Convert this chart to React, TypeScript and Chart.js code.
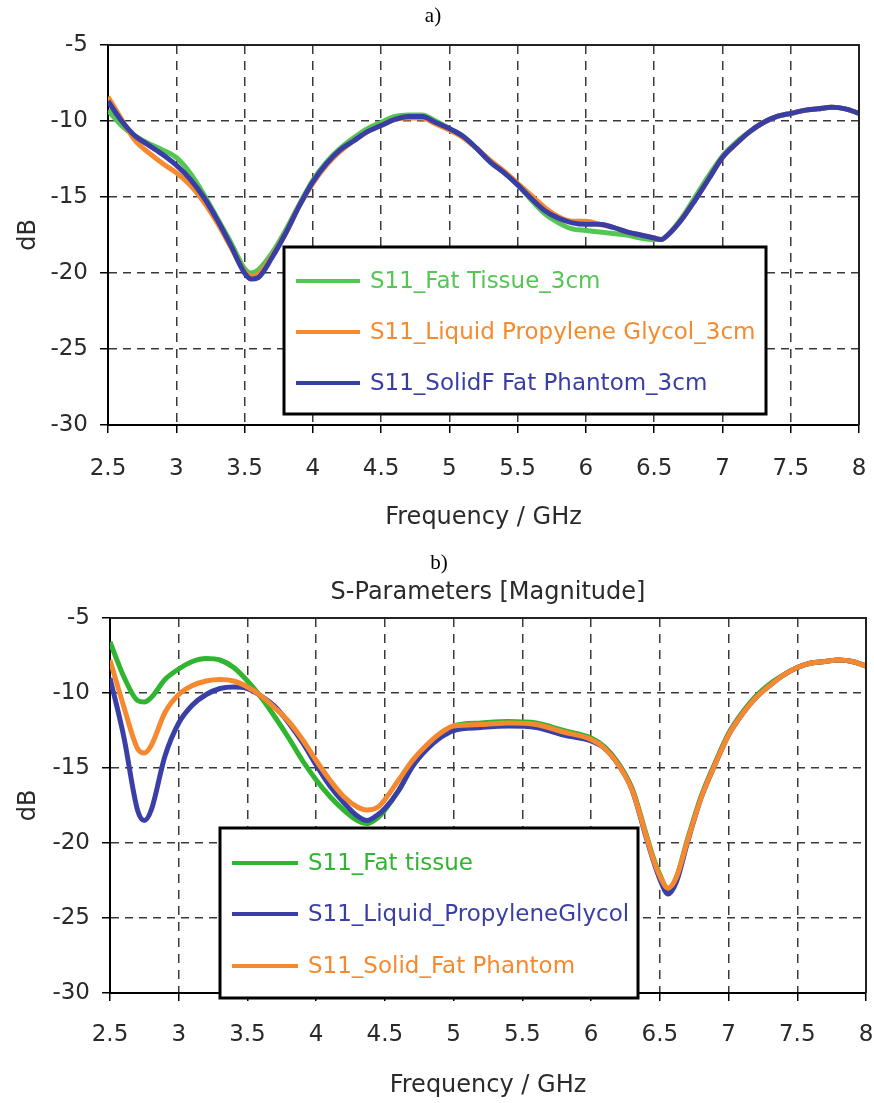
import React, { useEffect, useRef } from "react";
import { Chart, registerables } from "chart.js";

Chart.register(...registerables);

const FONT = "'DejaVu Sans', Verdana, sans-serif";

// ---------- Tick labels ----------
const xTickValues = [2.5, 3, 3.5, 4, 4.5, 5, 5.5, 6, 6.5, 7, 7.5, 8];
const yTickValues = [-30, -25, -20, -15, -10, -5];

// ---------- Chart a) ----------
const freqA = [2.5, 2.6, 2.7, 2.8, 2.9, 3.0, 3.1, 3.2, 3.3, 3.4, 3.5, 3.55, 3.6, 3.7, 3.8, 3.9, 4.0, 4.1, 4.2, 4.3, 4.4, 4.5, 4.6, 4.7, 4.8, 4.9, 5.0, 5.1, 5.2, 5.3, 5.4, 5.5, 5.6, 5.7, 5.8, 5.9, 6.0, 6.1, 6.2, 6.3, 6.4, 6.5, 6.55, 6.6, 6.7, 6.8, 6.9, 7.0, 7.1, 7.2, 7.3, 7.4, 7.5, 7.6, 7.7, 7.8, 7.9, 8.0];
const fatTissueA = [-9.3, -10.3, -11.0, -11.5, -11.9, -12.4, -13.4, -14.8, -16.4, -18.0, -19.7, -20.0, -19.8, -18.7, -17.2, -15.5, -13.9, -12.7, -11.8, -11.1, -10.5, -10.1, -9.7, -9.6, -9.6, -10.0, -10.5, -11.0, -11.8, -12.7, -13.4, -14.2, -15.2, -16.1, -16.7, -17.1, -17.2, -17.3, -17.4, -17.5, -17.7, -17.8, -17.8, -17.5, -16.4, -15.0, -13.6, -12.3, -11.4, -10.7, -10.1, -9.7, -9.5, -9.3, -9.2, -9.1, -9.2, -9.5];
const liquidPGA = [-8.4, -9.9, -11.3, -12.1, -12.8, -13.4, -14.2, -15.3, -16.7, -18.3, -19.9, -20.2, -20.1, -18.9, -17.4, -15.6, -14.1, -12.9, -12.0, -11.3, -10.7, -10.3, -9.9, -9.8, -9.8, -10.2, -10.6, -11.1, -11.8, -12.6, -13.3, -14.1, -14.9, -15.7, -16.3, -16.6, -16.6, -16.8, -17.0, -17.3, -17.5, -17.7, -17.8, -17.5, -16.5, -15.2, -13.8, -12.4, -11.5, -10.7, -10.1, -9.7, -9.5, -9.3, -9.2, -9.1, -9.2, -9.5];
const solidFatA = [-8.7, -10.0, -11.0, -11.6, -12.2, -12.9, -13.8, -15.0, -16.5, -18.2, -20.0, -20.4, -20.3, -19.0, -17.4, -15.6, -14.0, -12.8, -11.9, -11.3, -10.7, -10.3, -9.9, -9.7, -9.7, -10.1, -10.5, -11.0, -11.8, -12.7, -13.4, -14.2, -15.1, -15.9, -16.4, -16.7, -16.8, -16.8, -17.0, -17.3, -17.5, -17.7, -17.8, -17.5, -16.5, -15.2, -13.8, -12.4, -11.5, -10.7, -10.1, -9.7, -9.5, -9.3, -9.2, -9.1, -9.2, -9.5];
const labelsA = ["S11_Fat Tissue_3cm", "S11_Liquid Propylene Glycol_3cm", "S11_SolidF Fat Phantom_3cm"];

// ---------- Chart b) ----------
const freqB = [2.5, 2.6, 2.7, 2.75, 2.8, 2.9, 3.0, 3.1, 3.2, 3.3, 3.4, 3.5, 3.6, 3.7, 3.8, 3.9, 4.0, 4.1, 4.2, 4.3, 4.37, 4.45, 4.5, 4.6, 4.7, 4.8, 4.9, 5.0, 5.2, 5.4, 5.6, 5.8, 6.0, 6.1, 6.2, 6.3, 6.4, 6.45, 6.5, 6.56, 6.62, 6.7, 6.8, 6.9, 7.0, 7.1, 7.2, 7.3, 7.4, 7.5, 7.6, 7.7, 7.8, 7.9, 8.0];
const fatTissueB = [-6.6, -8.9, -10.5, -10.6, -10.3, -9.1, -8.4, -7.9, -7.7, -7.8, -8.3, -9.2, -10.3, -11.6, -13.0, -14.5, -15.8, -16.9, -17.8, -18.5, -18.7, -18.3, -17.8, -16.5, -14.9, -13.7, -12.8, -12.2, -12.0, -11.9, -12.0, -12.5, -13.0, -13.6, -14.7, -16.4, -19.4, -20.9, -22.1, -23.1, -22.3, -19.8, -16.9, -14.7, -12.7, -11.3, -10.2, -9.4, -8.8, -8.3, -8.0, -7.9, -7.8, -7.9, -8.2];
const liquidPGB = [-9.0, -12.9, -17.8, -18.5, -17.8, -14.2, -12.0, -10.8, -10.1, -9.7, -9.6, -9.7, -10.2, -10.9, -12.0, -13.3, -14.8, -16.2, -17.3, -18.2, -18.5, -18.1, -17.7, -16.5, -14.9, -13.8, -13.0, -12.5, -12.3, -12.2, -12.3, -12.8, -13.2, -13.7, -14.8, -16.5, -19.6, -21.1, -22.4, -23.4, -22.6, -20.0, -17.0, -14.8, -12.8, -11.4, -10.3, -9.5, -8.8, -8.3, -8.0, -7.9, -7.8, -7.9, -8.2];
const solidFatB = [-7.8, -10.9, -13.7, -14.0, -13.5, -11.3, -10.1, -9.5, -9.2, -9.1, -9.2, -9.6, -10.2, -11.0, -11.9, -13.1, -14.5, -15.8, -16.9, -17.6, -17.8, -17.6, -17.1, -15.8, -14.5, -13.5, -12.7, -12.2, -12.1, -12.0, -12.1, -12.6, -13.1, -13.7, -14.8, -16.5, -19.5, -21.0, -22.2, -23.0, -22.3, -19.9, -17.0, -14.8, -12.8, -11.4, -10.3, -9.5, -8.8, -8.3, -8.0, -7.9, -7.8, -7.9, -8.2];
const labelsB = ["S11_Fat tissue", "S11_Liquid_PropyleneGlycol", "S11_Solid_Fat Phantom"];

const toPts = (xs: number[], ys: number[]) => xs.map((x, i) => ({ x, y: ys[i] }));

const boxLegendPlugin = {
  id: "boxLegend",
  afterDraw(chart: any, _args: any, opts: any) {
    const ctx = chart.ctx;
    const { left, top, right, bottom } = chart.chartArea;
    ctx.save();
    ctx.setLineDash([]);
    ctx.strokeStyle = "#222";
    ctx.lineWidth = 2;
    ctx.beginPath();
    ctx.moveTo(left, top);
    ctx.lineTo(right, top);
    ctx.lineTo(right, bottom);
    ctx.stroke();

    const b = opts.box;
    ctx.fillStyle = "#ffffff";
    ctx.fillRect(b[0], b[1], b[2] - b[0], b[3] - b[1]);
    ctx.lineWidth = 3;
    ctx.strokeStyle = "#000";
    ctx.strokeRect(b[0], b[1], b[2] - b[0], b[3] - b[1]);

    const idx: number[] = opts.items;
    idx.forEach((di, i) => {
      const ds = chart.data.datasets[di];
      const y = opts.rows[i];
      ctx.strokeStyle = ds.borderColor;
      ctx.lineWidth = 4;
      ctx.beginPath();
      ctx.moveTo(opts.line[0], y);
      ctx.lineTo(opts.line[1], y);
      ctx.stroke();
      ctx.fillStyle = ds.borderColor;
      ctx.font = `23px ${FONT}`;
      ctx.textBaseline = "middle";
      ctx.textAlign = "left";
      ctx.fillText(ds.label, opts.textX, y + 1);
    });
    ctx.restore();
  },
};

function makeScales(yWidth: number, xHeight: number, tickPad: number, titlePadBottom: number) {
  return {
    x: {
      type: "linear",
      min: 2.5,
      max: 8,
      afterBuildTicks: (s: any) => {
        s.ticks = xTickValues.map((v) => ({ value: v }));
      },
      afterFit: (s: any) => {
        s.height = xHeight;
        s.paddingLeft = 0;
        s.paddingRight = 0;
      },
      grid: {
        color: "#3a3a3a",
        lineWidth: 1.5,
        tickLength: 8,
        tickColor: "#000",
        tickWidth: 1.5,
        tickBorderDash: [],
      },
      border: { display: true, color: "#000", width: 2, dash: [9, 7] },
      ticks: {
        color: "#2a2a2a",
        font: { family: FONT, size: 23 },
        padding: tickPad,
        maxRotation: 0,
        autoSkip: false,
        callback: (v: number) => String(v),
      },
      title: {
        display: true,
        text: "Frequency / GHz",
        color: "#2a2a2a",
        font: { family: FONT, size: 24 },
        padding: { top: 0, bottom: titlePadBottom },
      },
    },
    y: {
      type: "linear",
      min: -30,
      max: -5,
      afterBuildTicks: (s: any) => {
        s.ticks = yTickValues.map((v) => ({ value: v }));
      },
      afterFit: (s: any) => {
        s.width = yWidth;
        s.paddingTop = 0;
        s.paddingBottom = 0;
      },
      grid: {
        color: "#3a3a3a",
        lineWidth: 1.5,
        tickLength: 8,
        tickColor: "#000",
        tickWidth: 1.5,
        tickBorderDash: [],
      },
      border: { display: true, color: "#000", width: 2, dash: [8, 6] },
      ticks: {
        color: "#2a2a2a",
        font: { family: FONT, size: 23 },
        padding: 12,
        callback: (v: number) => String(v),
      },
      title: {
        display: true,
        text: "dB",
        color: "#2a2a2a",
        font: { family: FONT, size: 24 },
        padding: { top: 14, bottom: 0 },
      },
    },
  };
}

function lineDs(label: string, xs: number[], ys: number[], color: string, order: number) {
  return {
    label,
    data: toPts(xs, ys),
    borderColor: color,
    backgroundColor: color,
    borderWidth: 5,
    pointRadius: 0,
    cubicInterpolationMode: "monotone",
    tension: 0.4,
    fill: false,
    order,
  };
}

function ChartCanvas({ config, width, height, top }: any) {
  const ref = useRef<HTMLCanvasElement | null>(null);
  useEffect(() => {
    if (!ref.current) return;
    const chart = new Chart(ref.current, config);
    return () => chart.destroy();
  }, []);
  return (
    <canvas
      ref={ref}
      width={width}
      height={height}
      style={{ position: "absolute", left: 0, top, width, height, display: "block" }}
    />
  );
}

const configA: any = {
  type: "line",
  data: {
    datasets: [
      lineDs(labelsA[0], freqA, fatTissueA, "#55c553", 2),
      lineDs(labelsA[1], freqA, liquidPGA, "#f88a2e", 1),
      lineDs(labelsA[2], freqA, solidFatA, "#383ea6", 0),
    ],
  },
  options: {
    responsive: false,
    animation: false,
    devicePixelRatio: 1,
    layout: { padding: { top: 45, right: 15, left: 0, bottom: 0 } },
    scales: makeScales(108, 120, 22, 13),
    plugins: {
      legend: { display: false },
      tooltip: { enabled: false },
      boxLegend: {
        box: [284, 247, 766, 414],
        items: [0, 1, 2],
        rows: [281, 332, 383],
        line: [296, 360],
        textX: 370,
      },
    },
  },
  plugins: [boxLegendPlugin],
};

const configB: any = {
  type: "line",
  data: {
    datasets: [
      lineDs(labelsB[0], freqB, fatTissueB, "#2fb52f", 2),
      lineDs(labelsB[1], freqB, liquidPGB, "#3a3fa8", 1),
      lineDs(labelsB[2], freqB, solidFatB, "#f6892f", 0),
    ],
  },
  options: {
    responsive: false,
    animation: false,
    devicePixelRatio: 1,
    layout: { padding: { top: 73, right: 8, left: 0, bottom: 0 } },
    scales: makeScales(110, 110, 20, 3),
    plugins: {
      legend: { display: false },
      tooltip: { enabled: false },
      boxLegend: {
        box: [220, 283, 638, 453],
        items: [0, 1, 2],
        rows: [318, 369, 421],
        line: [232, 298],
        textX: 308,
      },
    },
  },
  plugins: [boxLegendPlugin],
};

export default function App() {
  const serif: React.CSSProperties = {
    position: "absolute",
    fontFamily: "'Liberation Serif', 'Times New Roman', serif",
    fontSize: 21,
    lineHeight: "21px",
    color: "#000",
    transform: "translate(-50%, -50%)",
    whiteSpace: "nowrap",
  };
  return (
    <div style={{ position: "absolute", left: 0, top: 0, width: 874, height: 1103, background: "#fff", overflow: "hidden" }}>
      <ChartCanvas config={configA} width={874} height={545} top={0} />
      <ChartCanvas config={configB} width={874} height={558} top={545} />
      <div style={{ ...serif, left: 433, top: 15 }}>a)</div>
      <div style={{ ...serif, left: 439, top: 562 }}>b)</div>
      <div
        style={{
          position: "absolute",
          left: 488,
          top: 591,
          transform: "translate(-50%, -50%)",
          fontFamily: FONT,
          fontSize: 24,
          lineHeight: "24px",
          color: "#2a2a2a",
          whiteSpace: "nowrap",
        }}
      >
        S-Parameters [Magnitude]
      </div>
    </div>
  );
}
